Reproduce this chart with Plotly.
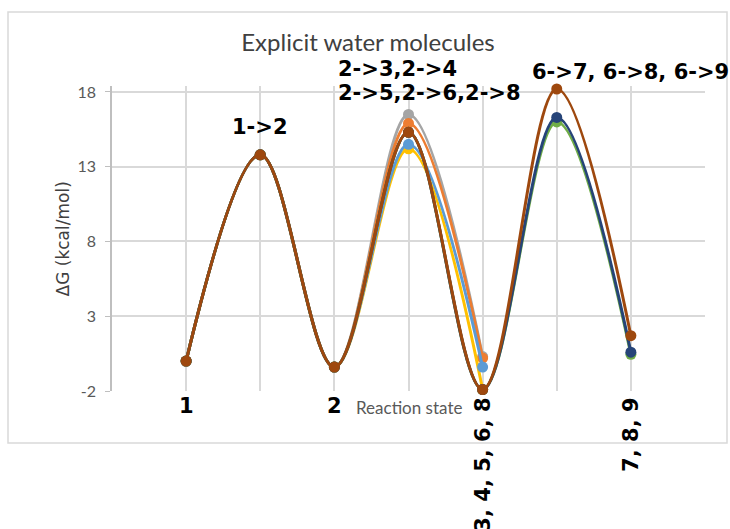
import plotly.graph_objects as go

# ---- data ----
states = [1, 2, 3, 4, 5, 6, 7]
series_names = ["2->3", "2->4", "2->5", "2->6", "6->9", "6->8", "6->7"]
series_colors = ["#A5A5A5", "#ED7D31", "#FFC000", "#5B9BD5", "#70AD47", "#264478", "#9E480E"]
s_2_3 = [0.0, 13.8, -0.4, 16.5, 0.3]
s_2_4 = [0.0, 13.8, -0.4, 15.9, 0.2]
s_2_5 = [0.0, 13.8, -0.4, 14.2, -1.9]
s_2_6 = [0.0, 13.8, -0.4, 14.5, -0.4]
s_6_9 = [0.0, 13.8, -0.4, 15.3, -1.9, 16.0, 0.45]
s_6_8 = [0.0, 13.8, -0.4, 15.3, -1.9, 16.3, 0.6]
s_6_7 = [0.0, 13.8, -0.4, 15.3, -1.9, 18.2, 1.7]
series_values = [s_2_3, s_2_4, s_2_5, s_2_6, s_6_9, s_6_8, s_6_7]

y_ticks = [-2, 3, 8, 13, 18]
y_tick_text = ["-2", "3", "8", "13", "18"]
state_labels = [(1, "1"), (3, "2"), (5, "3, 4, 5, 6, 8"), (7, "7, 8, 9")]

fig = go.Figure()
for name, color, vals in zip(series_names, series_colors, series_values):
    fig.add_trace(go.Scatter(
        x=states[:len(vals)], y=vals, name=name, mode="lines+markers",
        line=dict(color=color, width=3, shape="spline", smoothing=1.0),
        marker=dict(color=color, size=11),
        showlegend=False, cliponaxis=False))

bold = dict(family="DejaVu Sans", size=21, color="black")
ann = []
for xv, txt in state_labels:
    if len(txt) == 1:
        ann.append(dict(x=xv, y=-2, xref="x", yref="y", text="<b>%s</b>" % txt,
                        showarrow=False, font=bold, yanchor="middle", yshift=-15))
    else:
        ann.append(dict(x=xv, y=-2, xref="x", yref="y", text="<b>%s</b>" % txt,
                        showarrow=False, font=bold, textangle=-90,
                        yanchor="top", yshift=-5))
ann.append(dict(x=2, y=13.8, xref="x", yref="y", text="<b>1->2</b>", showarrow=False,
                font=bold, yanchor="middle", yshift=28))
ann.append(dict(x=6, y=18.2, xref="x", yref="y", text="<b>6->7, 6->8, 6->9</b>",
                showarrow=False, font=bold, yanchor="middle", xshift=74, yshift=17))
ann.append(dict(x=3, y=18, xref="x", yref="y", text="<b>2->3,2->4</b>", showarrow=False,
                font=bold, xanchor="left", yanchor="middle", xshift=2, yshift=23))
ann.append(dict(x=3, y=18, xref="x", yref="y", text="<b>2->5,2->6,2->8</b>", showarrow=False,
                font=bold, xanchor="left", yanchor="middle", xshift=2, yshift=-1))
ann.append(dict(x=4, y=-2, xref="x", yref="y", text="Reaction state", showarrow=False,
                font=dict(family="Lato", size=17, color="#595959"), yanchor="middle", yshift=-16))
ann.append(dict(x=-0.103, y=0.5, xref="paper", yref="paper", text="ΔG (kcal/mol)",
                showarrow=False, textangle=-90,
                font=dict(family="DejaVu Sans", size=17, color="#404040")))

fig.update_layout(
    width=730, height=529,
    margin=dict(l=112, r=25, t=86, b=138),
    paper_bgcolor="white", plot_bgcolor="white",
    title=dict(text="Explicit water molecules", x=368 / 730, xanchor="center",
               y=1 - 43 / 529, yanchor="middle",
               font=dict(family="Lato", size=24, color="#404040")),
    annotations=ann,
    xaxis=dict(range=[0, 8], dtick=1, tick0=0, showgrid=True, gridcolor="#d9d9d9",
               gridwidth=1.5, showticklabels=False, zeroline=False, showline=False),
    yaxis=dict(range=[-2, 18.4], tickvals=y_ticks, ticktext=y_tick_text,
               showgrid=True, gridcolor="#d9d9d9",
               gridwidth=1.5, zeroline=False, showline=True, linecolor="#bfbfbf",
               linewidth=1.5, ticks="outside", ticklen=5, tickcolor="#bfbfbf",
               ticklabelstandoff=6,
               tickfont=dict(family="Lato", size=16, color="#595959")),
    shapes=[dict(type="rect", xref="paper", yref="paper",
                 x0=(8 - 112) / 593, x1=(727 - 112) / 593,
                 y0=(391 - 443) / 305, y1=(391 - 12) / 305,
                 line=dict(color="#d9d9d9", width=1.5), fillcolor="rgba(0,0,0,0)",
                 layer="below")],
)
fig.write_html("out.html")
